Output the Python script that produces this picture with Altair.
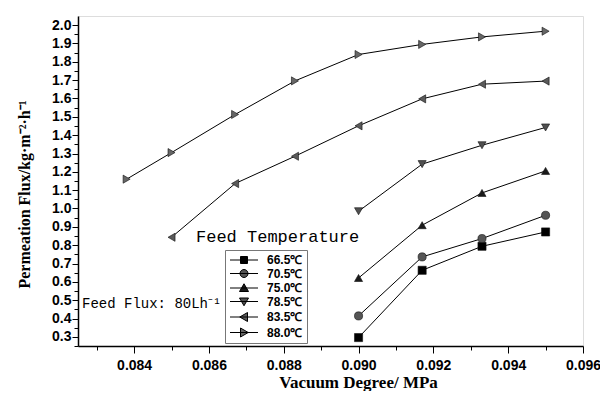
import altair as alt
import pandas as pd

temps = ["66.5℃", "70.5℃", "75.0℃", "78.5℃", "83.5℃", "88.0℃"]

x_hi = [0.0900, 0.0917, 0.0933, 0.0950]
flux_665 = [0.296, 0.663, 0.794, 0.872]
flux_705 = [0.414, 0.736, 0.836, 0.963]
flux_750 = [0.621, 0.909, 1.085, 1.205]
flux_785 = [0.985, 1.242, 1.345, 1.442]
x_835 = [0.0850, 0.0867, 0.0883, 0.0900, 0.0917, 0.0933, 0.0950]
flux_835 = [0.843, 1.136, 1.285, 1.451, 1.598, 1.678, 1.695]
x_880 = [0.0838, 0.0850, 0.0867, 0.0883, 0.0900, 0.0917, 0.0933, 0.0950]
flux_880 = [1.160, 1.305, 1.513, 1.696, 1.840, 1.895, 1.936, 1.967]

x_ticks = [0.084, 0.086, 0.088, 0.090, 0.092, 0.094, 0.096]
x_minor = [0.083, 0.085, 0.087, 0.089, 0.091, 0.093, 0.095]
y_ticks = [round(0.3 + 0.1 * i, 1) for i in range(18)]
y_minor = [round(0.25 + 0.1 * i, 2) for i in range(18)]

colors = ["#000000", "#555555", "#1a1a1a", "#505050", "#5a5a5a", "#666666"]
line_colors = ["#000000"] * 6
shapes = ["square", "circle", "triangle-up", "triangle-down", "triangle-left", "triangle-right"]
legend_paths = [
    "M-2.8,0H2.8M-0.7,-0.7H0.7V0.7H-0.7Z",
    "M-2.8,0H2.8M-0.8,0A0.8,0.8 0 1,0 0.8,0A0.8,0.8 0 1,0 -0.8,0Z",
    "M-2.8,0H2.8M0,-0.85L0.9,0.7H-0.9Z",
    "M-2.8,0H2.8M0,0.85L0.9,-0.7H-0.9Z",
    "M-2.8,0H2.8M-0.85,0L0.7,-0.9V0.9Z",
    "M-2.8,0H2.8M0.85,0L-0.7,-0.9V0.9Z",
]

rows = []
for t, xs, ys in [
    (temps[0], x_hi, flux_665),
    (temps[1], x_hi, flux_705),
    (temps[2], x_hi, flux_750),
    (temps[3], x_hi, flux_785),
    (temps[4], x_835, flux_835),
    (temps[5], x_880, flux_880),
]:
    for xv, yv in zip(xs, ys):
        rows.append({"T": t, "x": xv, "y": yv})
df = pd.DataFrame(rows)

xscale = alt.Scale(domain=[0.0825, 0.096], nice=False, zero=False)
yscale = alt.Scale(domain=[0.25, 2.05], nice=False, zero=False)

label_font = "Liberation Sans"
title_font = "Liberation Serif"

x_major_axis = alt.Axis(
    values=x_ticks, format=".3f", tickSize=7, tickColor="black", tickWidth=1,
    domainColor="black", domainWidth=1.5, labelFont=label_font, labelFontSize=14,
    labelFontWeight="bold", labelColor="black", labelPadding=5, grid=False,
    title="Vacuum Degree/ MPa", titleFont=title_font, titleFontSize=17,
    titleFontWeight="bold", titleColor="black", titleX=280, titleY=41,
    titleBaseline="alphabetic", labelFlush=False,
)
y_major_axis = alt.Axis(
    values=y_ticks, format=".1f", tickSize=6, tickColor="black", tickWidth=1,
    domainColor="black", domainWidth=1.5, labelFont=label_font, labelFontSize=14,
    labelFontWeight="bold", labelColor="black", labelPadding=1, grid=False,
    title="Permeation Flux/kg·m⁻²·h⁻¹", titleFont=title_font, titleFontSize=16,
    titleFontWeight="bold", titleColor="black", titleX=-54, titleY=178,
    titleAngle=-90, titleBaseline="middle", titleAlign="center",
)
x_minor_axis = alt.Axis(
    values=x_minor, labels=False, tickSize=4, tickColor="black", tickWidth=1,
    domain=False, grid=False, title=None, orient="bottom",
)
y_minor_axis = alt.Axis(
    values=y_minor, labels=False, tickSize=4, tickColor="black", tickWidth=1,
    domain=False, grid=False, title=None, orient="left",
)

base = alt.Chart(df)

lines = base.mark_line(color="black", strokeWidth=1).encode(
    x=alt.X("x:Q", scale=xscale, axis=x_major_axis),
    y=alt.Y("y:Q", scale=yscale, axis=y_major_axis),
    detail="T:N",
)

minor = base.mark_point(opacity=0).encode(
    x=alt.X("x:Q", scale=xscale, axis=x_minor_axis),
    y=alt.Y("y:Q", scale=yscale, axis=y_minor_axis),
)

points = base.mark_point(filled=True, size=66, opacity=1, stroke="#111111", strokeWidth=0.6).encode(
    x=alt.X("x:Q", scale=xscale, axis=None),
    y=alt.Y("y:Q", scale=yscale, axis=None),
    shape=alt.Shape("T:N", scale=alt.Scale(domain=temps, range=shapes), legend=None),
    fill=alt.Fill("T:N", scale=alt.Scale(domain=temps, range=colors), legend=None),
)

leg = alt.Legend(
    title=None, orient="none", legendX=147, legendY=234, padding=4,
    strokeColor="#777777", fillColor="white", symbolSize=100,
    symbolStrokeWidth=1, symbolOpacity=1,
    symbolOffset=9, labelOffset=17, labelFont=label_font, labelFontSize=12,
    labelFontWeight="bold", labelColor="black", rowPadding=1.5,
)
legend_layer = base.mark_point(filled=True, opacity=0).encode(
    x=alt.X("x:Q", scale=xscale, axis=None),
    y=alt.Y("y:Q", scale=yscale, axis=None),
    shape=alt.Shape("T:N", scale=alt.Scale(domain=temps, range=legend_paths), legend=leg),
    fill=alt.Fill("T:N", scale=alt.Scale(domain=temps, range=colors), legend=leg),
    stroke=alt.Stroke("T:N", scale=alt.Scale(domain=temps, range=line_colors), legend=leg),
)

ann_temp = alt.Chart(pd.DataFrame({"t": ["Feed Temperature"]})).mark_text(
    font="Liberation Mono", fontSize=17, align="left", baseline="middle", color="black"
).encode(text="t:N", x=alt.value(118), y=alt.value(221))

ann_flux = alt.Chart(pd.DataFrame({"t": ["Feed Flux: 80Lh⁻¹"]})).mark_text(
    font="Liberation Mono", fontSize=14, align="left", baseline="middle", color="black"
).encode(text="t:N", x=alt.value(4), y=alt.value(288))

chart = alt.layer(lines, minor, points, legend_layer, ann_temp, ann_flux).resolve_scale(
    shape="independent", fill="independent", stroke="independent"
).resolve_axis(x="independent", y="independent").properties(
    width=505, height=330,
    autosize=alt.AutoSizeParams(type="none"),
    padding={"left": 70, "top": 8, "right": 17, "bottom": 45},
).configure_view(stroke=None).configure(background="white")

chart.save("out.html", embed_options={"renderer": "svg", "actions": False})
